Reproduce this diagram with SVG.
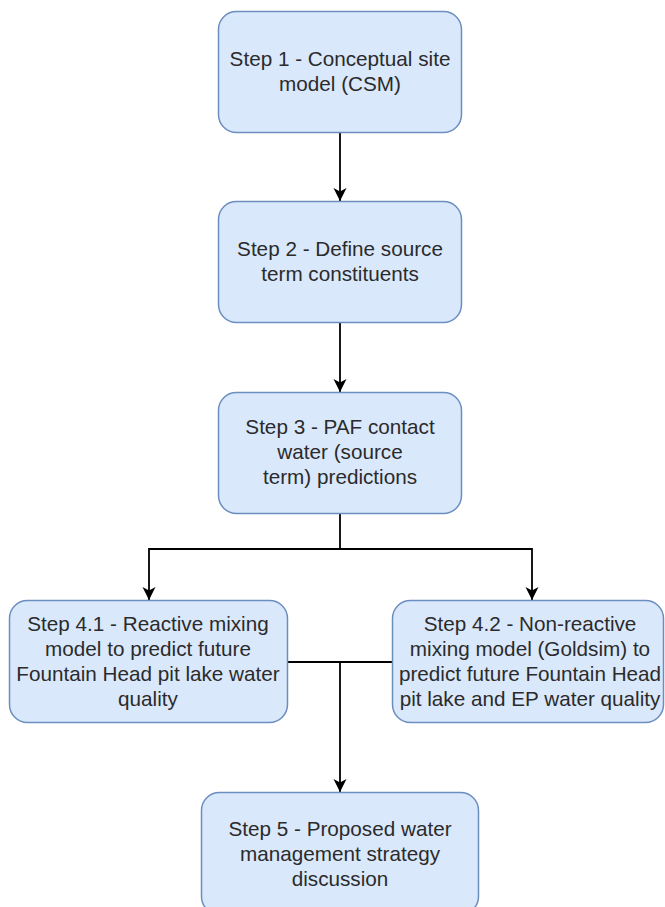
<svg xmlns="http://www.w3.org/2000/svg" width="665" height="907" viewBox="0 0 665 907">
<style>
.box{fill:#dae8fc;stroke:#6c8ebf;stroke-width:1.5}
.lbl{font-family:"Liberation Sans",Arial,sans-serif;font-size:20.7px;fill:#2b2b2b;text-anchor:middle}
.edge{fill:none;stroke:#000;stroke-width:1.8}
</style>
<defs>
<marker id="arr" markerUnits="userSpaceOnUse" markerWidth="16" markerHeight="16" viewBox="-14 -8 16 16" refX="0" refY="0" orient="auto">
<path d="M0,0 L-13,-6.5 L-9.5,0 L-13,6.5 Z" fill="#000"/>
</marker>
</defs>
<rect width="665" height="907" fill="#fff"/>
<g id="connectors">
<path class="edge" d="M340,133 V201" marker-end="url(#arr)"/>
<path class="edge" d="M340,323 V392" marker-end="url(#arr)"/>
<path class="edge" d="M340,514 V549 H149 V600" marker-end="url(#arr)"/>
<path class="edge" d="M340,549 H532 V600" marker-end="url(#arr)"/>
<path class="edge" d="M287,662 H340 V792" marker-end="url(#arr)"/>
<path class="edge" d="M392,662 H340"/>
</g>
<g id="step1">
<rect class="box" x="218.5" y="11.5" width="243" height="121" rx="18"/>
<text class="lbl"><tspan x="340" y="66">Step 1 - Conceptual site</tspan><tspan x="340" y="91">model (CSM)</tspan></text>
</g>
<g id="step2">
<rect class="box" x="218.5" y="201.5" width="243" height="121" rx="18"/>
<text class="lbl"><tspan x="340" y="256">Step 2 - Define source</tspan><tspan x="340" y="281">term constituents</tspan></text>
</g>
<g id="step3">
<rect class="box" x="218.5" y="392.5" width="243" height="121" rx="18"/>
<text class="lbl"><tspan x="340" y="434">Step 3 - PAF contact</tspan><tspan x="340" y="459">water (source</tspan><tspan x="340" y="484">term) predictions</tspan></text>
</g>
<g id="step4_1">
<rect class="box" x="9.5" y="600.5" width="278" height="122" rx="18"/>
<text class="lbl"><tspan x="148" y="631">Step 4.1 - Reactive mixing</tspan><tspan x="148" y="656">model to predict future</tspan><tspan x="148" y="681">Fountain Head pit lake water</tspan><tspan x="148" y="706">quality</tspan></text>
</g>
<g id="step4_2">
<rect class="box" x="392.5" y="600.5" width="271" height="122" rx="18"/>
<text class="lbl"><tspan x="530" y="631">Step 4.2 - Non-reactive</tspan><tspan x="530" y="656">mixing model (Goldsim) to</tspan><tspan x="530" y="681">predict future Fountain Head</tspan><tspan x="530" y="706">pit lake and EP water quality</tspan></text>
</g>
<g id="step5">
<rect class="box" x="201.5" y="792.5" width="277" height="122" rx="18"/>
<text class="lbl"><tspan x="340" y="836">Step 5 - Proposed water</tspan><tspan x="340" y="861">management strategy</tspan><tspan x="340" y="886">discussion</tspan></text>
</g>
</svg>
